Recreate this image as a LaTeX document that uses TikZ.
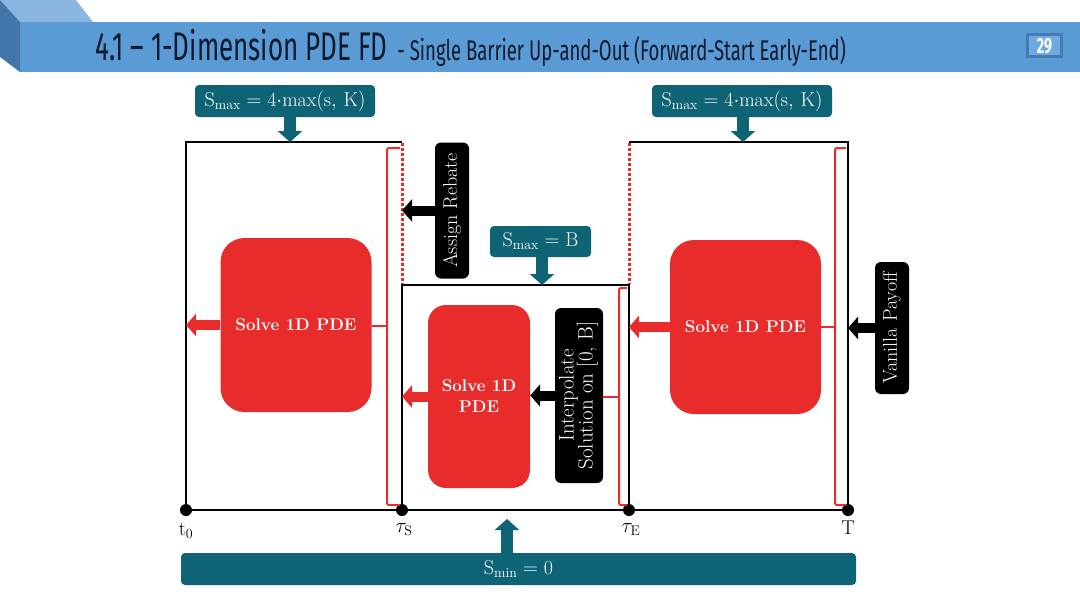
\documentclass[tikz,border=0pt]{standalone}
\usepackage{fontspec}
\usetikzlibrary{arrows.meta}
\newfontfamily\titlefont[FakeStretch=0.65]{Fira Sans}
\definecolor{hdr}{RGB}{91,155,213}
\definecolor{hdrtop}{RGB}{140,182,226}
\definecolor{hdrside}{RGB}{66,118,170}
\definecolor{titlecol}{RGB}{16,26,46}
\definecolor{pgdark}{RGB}{70,122,178}
\definecolor{pglight}{RGB}{112,168,224}
\definecolor{teal}{RGB}{14,99,117}
\definecolor{pdered}{RGB}{232,44,44}
\tikzset{
  frame/.style={line width=2.6pt, black},
  reddot/.style={line width=3pt, pdered, dash pattern=on 2.5pt off 2.5pt},
  bracket/.style={line width=2pt, pdered, rounded corners=2pt},
  tealbox/.style={fill=teal, text=white, rounded corners=4pt, inner sep=0pt, font=\fontsize{20}{24}\selectfont},
  redbox/.style={fill=pdered, text=white, rounded corners=24pt, inner sep=0pt, align=center, font=\fontsize{17}{21}\selectfont\bfseries},
  blackbox/.style={fill=black, text=white, rounded corners=6pt, inner sep=0pt, font=\fontsize{20}{21}\selectfont},
  tealarrow/.style={teal, line width=12pt, -{Triangle[width=24pt,length=11pt]}},
  redarrow/.style={pdered, line width=10pt, -{Triangle[width=22pt,length=10pt]}},
  blackarrow/.style={black, line width=10pt, -{Triangle[width=22pt,length=10pt]}},
  tlabel/.style={anchor=north, inner sep=0pt, font=\fontsize{20}{24}\selectfont},
  dot/.style={fill=black}
}
\begin{document}
\begin{tikzpicture}[x=1pt,y=-1pt]
\useasboundingbox (0,0) rectangle (1080,608);
% header
\fill[hdr] (20,22) rectangle (1080,72);
\fill[hdrtop] (0,0) -- (76,0) -- (93,22) -- (20,22) -- cycle;
\fill[hdrside] (0,0) -- (20,22) -- (20,72) -- (0,57) -- cycle;
\node[anchor=base west, inner sep=0pt, text=titlecol] (title) at (95,60)
  {\titlefont\fontsize{40}{40}\selectfont 4.1 – 1-Dimension PDE FD\fontsize{28.5}{29}\selectfont{} \ - Single Barrier Up-and-Out (Forward-Start Early-End)};
\fill[pgdark] (1026,33) rectangle (1063,58);
\fill[pglight] (1029,36) rectangle (1060,55);
\node[text=white, inner sep=0pt] (pg) at (1044.5,46) {\titlefont\fontsize{22}{22}\selectfont\bfseries 29};

% coordinates
\coordinate (t0) at (186,510);
\coordinate (tS) at (402,510);
\coordinate (tE) at (629,510);
\coordinate (T) at (848,510);
\coordinate (topL) at (186,142);
\coordinate (topM) at (402,285);
\coordinate (sminTip) at (507,519);

% frames
\draw[frame] (402,142) -- (topL) -- (t0) -- (T) -- (848,142) -- (629,142);
\draw[frame] (tS) -- (topM) -- (629,285) -- (tE);
\draw[reddot] (402,143) -- (402,284);
\draw[reddot] (629,143) -- (629,284);
\foreach \p in {t0,tS,tE,T} \fill[dot] (\p) circle (6pt);

% labels
\node[tlabel] (lt0) at (186,523) {$\mathrm{t_0}$};
\node[tlabel] (ltS) at (404,523) {$\tau_{\mathrm{S}}$};
\node[tlabel] (ltE) at (631,523) {$\tau_{\mathrm{E}}$};
\node[tlabel] (lT) at (848,521) {T};

% teal boxes
\node[tealbox, minimum width=180pt, minimum height=32pt] (smaxL) at (285,101) {$\mathrm{S_{max}=4{\cdot}max(s,\,K)}$};
\node[tealbox, minimum width=180pt, minimum height=32pt] (smaxR) at (742,101) {$\mathrm{S_{max}=4{\cdot}max(s,\,K)}$};
\node[tealbox, minimum width=101pt, minimum height=31pt] (smaxM) at (540.5,241.5) {$\mathrm{S_{max}=B}$};
\node[tealbox, minimum width=675pt, minimum height=32pt] (smin) at (518.5,569) {$\mathrm{S_{min}=0}$};
\draw[tealarrow] ([xshift=5pt]smaxL.south) -- ([xshift=5pt]smaxL.south |- topL);
\draw[tealarrow] ([xshift=1pt]smaxR.south) -- ([xshift=1pt]smaxR.south |- topL);
\draw[tealarrow] ([xshift=1.5pt]smaxM.south) -- ([xshift=1.5pt]smaxM.south |- topM);
\draw[tealarrow] (smin.north -| sminTip) -- (sminTip);

% red boxes
\node[redbox, minimum width=151pt, minimum height=174pt] (solveL) at (296,325) {Solve 1D PDE};
\node[redbox, minimum width=102pt, minimum height=183pt, rounded corners=18pt] (solveM) at (479,396.5) {Solve 1D\\PDE};
\node[redbox, minimum width=151pt, minimum height=174pt] (solveR) at (745.5,327) {Solve 1D PDE};

% black boxes
\node[blackbox, minimum width=34pt, minimum height=136pt] (assign) at (452,210.5) {\rotatebox{90}{Assign Rebate}};
\node[blackbox, minimum width=48pt, minimum height=175pt, font=\fontsize{21}{21}\selectfont] (interp) at (579,395.5) {\rotatebox{90}{\begin{tabular}{@{}c@{}}Interpolate\\[-3pt]Solution on [0, B]\end{tabular}}};
\node[blackbox, minimum width=34pt, minimum height=132pt] (vanilla) at (892,328) {\rotatebox{90}{Vanilla Payoff}};

% arrows
\draw[redarrow] (solveL.west) -- (solveL.west -| t0);
\draw[redarrow] (solveM.west) -- (solveM.west -| tS);
\draw[redarrow] (solveR.west) -- (solveR.west -| tE);
\draw[blackarrow] (assign.west) -- (assign.west -| tS);
\draw[blackarrow] (interp.west) -- (interp.west -| solveM.east);
\draw[blackarrow] (vanilla.west) -- (vanilla.west -| T);

% brackets
\draw[bracket] (400,148) -- (387,148) -- (387,505) -- (400,505);
\draw[bracket] (387,326) -- (solveL.east |- 387,326);
\draw[bracket] (627,288) -- (619,288) -- (619,505) -- (627,505);
\draw[bracket] (619,397) -- (interp.east |- 619,397);
\draw[bracket] (846,148) -- (835,148) -- (835,505) -- (846,505);
\draw[bracket] (835,327) -- (solveR.east |- 835,327);
\end{tikzpicture}
\end{document}
